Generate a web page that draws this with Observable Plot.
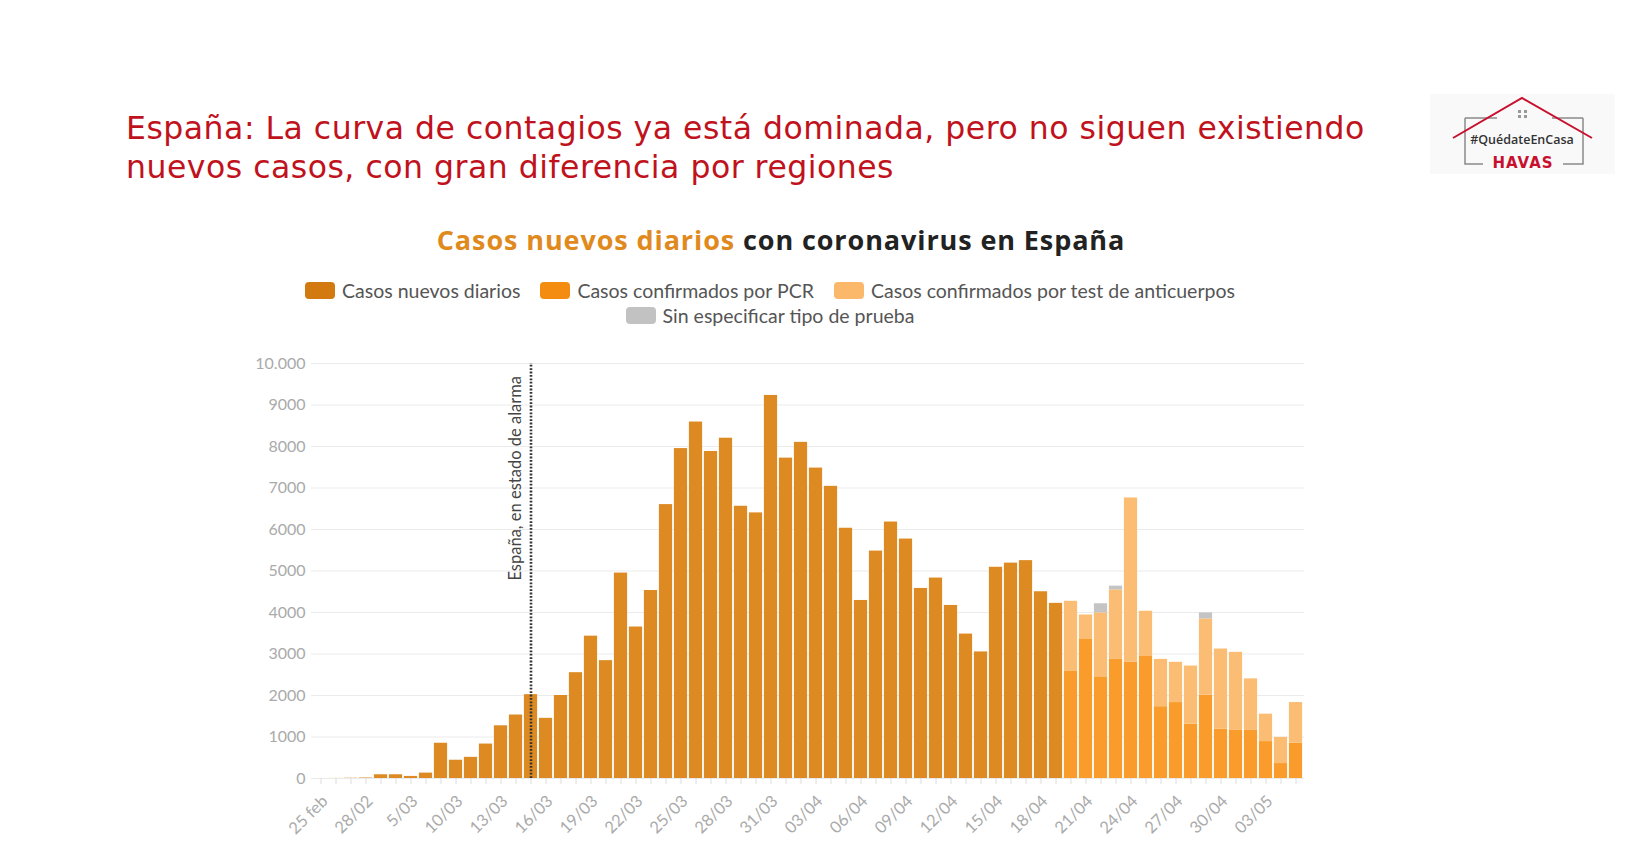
<!DOCTYPE html>
<html>
<head>
<meta charset="utf-8">
<script src="https://cdn.jsdelivr.net/npm/d3@7"></script>
<script src="https://cdn.jsdelivr.net/npm/@observablehq/plot@0.6"></script>
<style>
  html, body { margin: 0; padding: 0; background: #fff; }
  #page { position: relative; width: 1638px; height: 862px; overflow: hidden; background: #fff; }
  #title { position: absolute; left: 126px; top: 109px; color: #C0121C; font-family: "DejaVu Sans", sans-serif; font-size: 31.5px; letter-spacing: 0.5px; line-height: 39px; font-weight: normal; white-space: nowrap; }
  #ctitle { position: absolute; left: 0; width: 1562px; top: 221px; text-align: center; font-family: "Open Sans", sans-serif; font-weight: 700; font-size: 27px; letter-spacing: 0.9px; color: #222; white-space: nowrap; }
  #ctitle .hl { color: #E08A1E; }
  .legrow { position: absolute; left: 0; width: 1540px; text-align: center; font-family: "Lato", sans-serif; font-size: 19.5px; color: #555; white-space: nowrap; }
  .item { display: inline-flex; align-items: center; margin: 0 10px; }
  .sw { display: inline-block; width: 30px; height: 17px; border-radius: 4px; margin-right: 7px; }
  #chart { position: absolute; left: 0; top: 330px; }
  #logo { position: absolute; left: 1425px; top: 88px; }
</style>
</head>
<body>
<div id="page">
  <div id="title">España: La curva de contagios ya está dominada, pero no siguen existiendo<br>nuevos casos, con gran diferencia por regiones</div>
  <svg id="logo" width="200" height="92" viewBox="0 0 200 92">
    <rect x="5" y="6" width="185" height="80" fill="#f9f9f9"/>
    <polyline points="40,30 40,76 58,76" fill="none" stroke="#8a8a8a" stroke-width="1.5"/>
    <polyline points="138,76 158,76 158,30" fill="none" stroke="#8a8a8a" stroke-width="1.5"/>
    <line x1="40" y1="30" x2="72" y2="30" stroke="#8a8a8a" stroke-width="1.5"/>
    <line x1="127" y1="30" x2="158" y2="30" stroke="#8a8a8a" stroke-width="1.5"/>
    <polyline points="28,50 97,10 167,50" fill="none" stroke="#C8102E" stroke-width="2"/>
    <rect x="93" y="22" width="3" height="3" fill="#999"/><rect x="99" y="22" width="3" height="3" fill="#999"/>
    <rect x="93" y="27" width="3" height="3" fill="#999"/><rect x="99" y="27" width="3" height="3" fill="#999"/>
    <text x="97" y="56" text-anchor="middle" font-family="Open Sans, sans-serif" font-size="12.5" font-weight="600" fill="#333">#QuédateEnCasa</text>
    <text x="98" y="80" text-anchor="middle" font-family="DejaVu Sans, sans-serif" font-size="15" font-weight="bold" fill="#C8102E" letter-spacing="1">HAVAS</text>
  </svg>
  <div id="ctitle"><span class="hl">Casos nuevos diarios</span> con coronavirus en España</div>
  <div class="legrow" id="leg1" style="top:279px"></div>
  <div class="legrow" id="leg2" style="top:304px"></div>
  <div id="chart"></div>
</div>
<script>
// ---- data ----
const dates = ["25 feb","26/02","27/02","28/02","1/03","3/03","5/03","7/03","8/03","10/03",
  "11/03","12/03","13/03","14/03","15/03","16/03","17/03","18/03","19/03","20/03",
  "21/03","22/03","23/03","24/03","25/03","26/03","27/03","28/03","29/03","30/03",
  "31/03","01/04","02/04","03/04","04/04","05/04","06/04","07/04","08/04","09/04",
  "10/04","11/04","12/04","13/04","14/04","15/04","16/04","17/04","18/04","19/04",
  "20/04","21/04","22/04","23/04","24/04","25/04","26/04","27/04","28/04","29/04",
  "30/04","01/05","02/05","03/05","04/05","05/05"];

// Casos nuevos diarios (25 feb .. 19/04)
const casosNuevos = [0, 2, 6, 12, 90, 90, 50, 130, 850, 440,
  510, 830, 1270, 1530, 2020, 1450, 2000, 2550, 3430, 2840,
  4950, 3650, 4530, 6600, 7950, 8590, 7880, 8200, 6560, 6400,
  9230, 7720, 8100, 7480, 7040, 6030, 4290, 5480, 6180, 5770,
  4580, 4830, 4170, 3480, 3050, 5090, 5190, 5250, 4500, 4220];

// From 20/04 onward
const desgloseFechas = ["20/04","21/04","22/04","23/04","24/04","25/04","26/04","27/04","28/04","29/04","30/04","01/05","02/05","03/05","04/05","05/05"];
const casosPCR =        [2580, 3350, 2450, 2870, 2800, 2940, 1730, 1830, 1310, 2010, 1190, 1170, 1170, 890, 360, 850];
const casosAnticuerpos = [1690, 590, 1540, 1675, 3960, 1090, 1140, 970, 1400, 1835, 1930, 1870, 1230, 660, 630, 980];
const casosSinTipo =    [0, 0, 220, 90, 0, 0, 0, 0, 0, 145, 0, 0, 0, 0, 0, 0];

const series = ["Casos nuevos diarios", "Casos confirmados por PCR", "Casos confirmados por test de anticuerpos", "Sin especificar tipo de prueba"];
const barColors = ["#DE8A23", "#F99C2C", "#FBBC74", "#C4C4C4"];
const legendColors = ["#D27A10", "#F58C12", "#FBB86A", "#C2C2C2"];

const yTicks = [0, 1000, 2000, 3000, 4000, 5000, 6000, 7000, 8000, 9000, 10000];
const alarmDate = "15/03";
const alarmLabel = "España, en estado de alarma";

// ---- build table ----
const rows = [];
casosNuevos.forEach((v, i) => rows.push({date: dates[i], serie: series[0], value: v}));
desgloseFechas.forEach((d, i) => {
  rows.push({date: d, serie: series[1], value: casosPCR[i]});
  rows.push({date: d, serie: series[2], value: casosAnticuerpos[i]});
  rows.push({date: d, serie: series[3], value: casosSinTipo[i]});
});
const labelDates = dates.filter((d, i) => i % 3 === 0);

// ---- legend ----
function legendItem(i) {
  return `<span class="item"><span class="sw" style="background:${legendColors[i]}"></span>${series[i]}</span>`;
}
document.getElementById("leg1").innerHTML = [0,1,2].map(legendItem).join("");
document.getElementById("leg2").innerHTML = legendItem(3);

// ---- chart ----
const fmt = d => d >= 10000 ? d3.format(",")(d).replace(/,/g, ".") : String(d);
const chart = Plot.plot({
  width: 1638,
  height: 530,
  marginLeft: 311,
  marginRight: 334,
  marginTop: 33,
  marginBottom: 82,
  style: {fontFamily: "Lato, sans-serif", background: "transparent", overflow: "visible"},
  x: {domain: dates, padding: 0, axis: null},
  y: {domain: [0, 10000], axis: null},
  color: {domain: series, range: barColors},
  marks: [
    Plot.gridY(yTicks, {stroke: "#ebebeb", strokeOpacity: 1, strokeWidth: 1.2}),
    Plot.barY(rows, {x: "date", y: "value", fill: "serie", insetLeft: 0.9, insetRight: 0.9}),
    Plot.ruleX([alarmDate], {y1: 0, y2: 10000, stroke: "#333", strokeWidth: 2.6, strokeDasharray: "1.8,1.6"}),
    Plot.text([alarmLabel], {x: () => alarmDate, y: () => 4770, text: d => d, rotate: -90, textAnchor: "start", dx: -15, fontSize: 16.5, fill: "#444"}),
    Plot.axisY({ticks: yTicks, tickSize: 0, tickPadding: 6, tickFormat: fmt, fontSize: 16, fill: "#aaa", label: null}),
    Plot.axisX({ticks: dates, tickSize: 6, tickFormat: () => "", stroke: "#dcdcdc", label: null}),
    Plot.axisX({ticks: labelDates, tickSize: 0, tickPadding: 20, dx: 4, tickRotate: -45, fontSize: 16.5, fill: "#aaa", label: null})
  ]
});
document.getElementById("chart").appendChild(chart);
</script>
</body>
</html>
